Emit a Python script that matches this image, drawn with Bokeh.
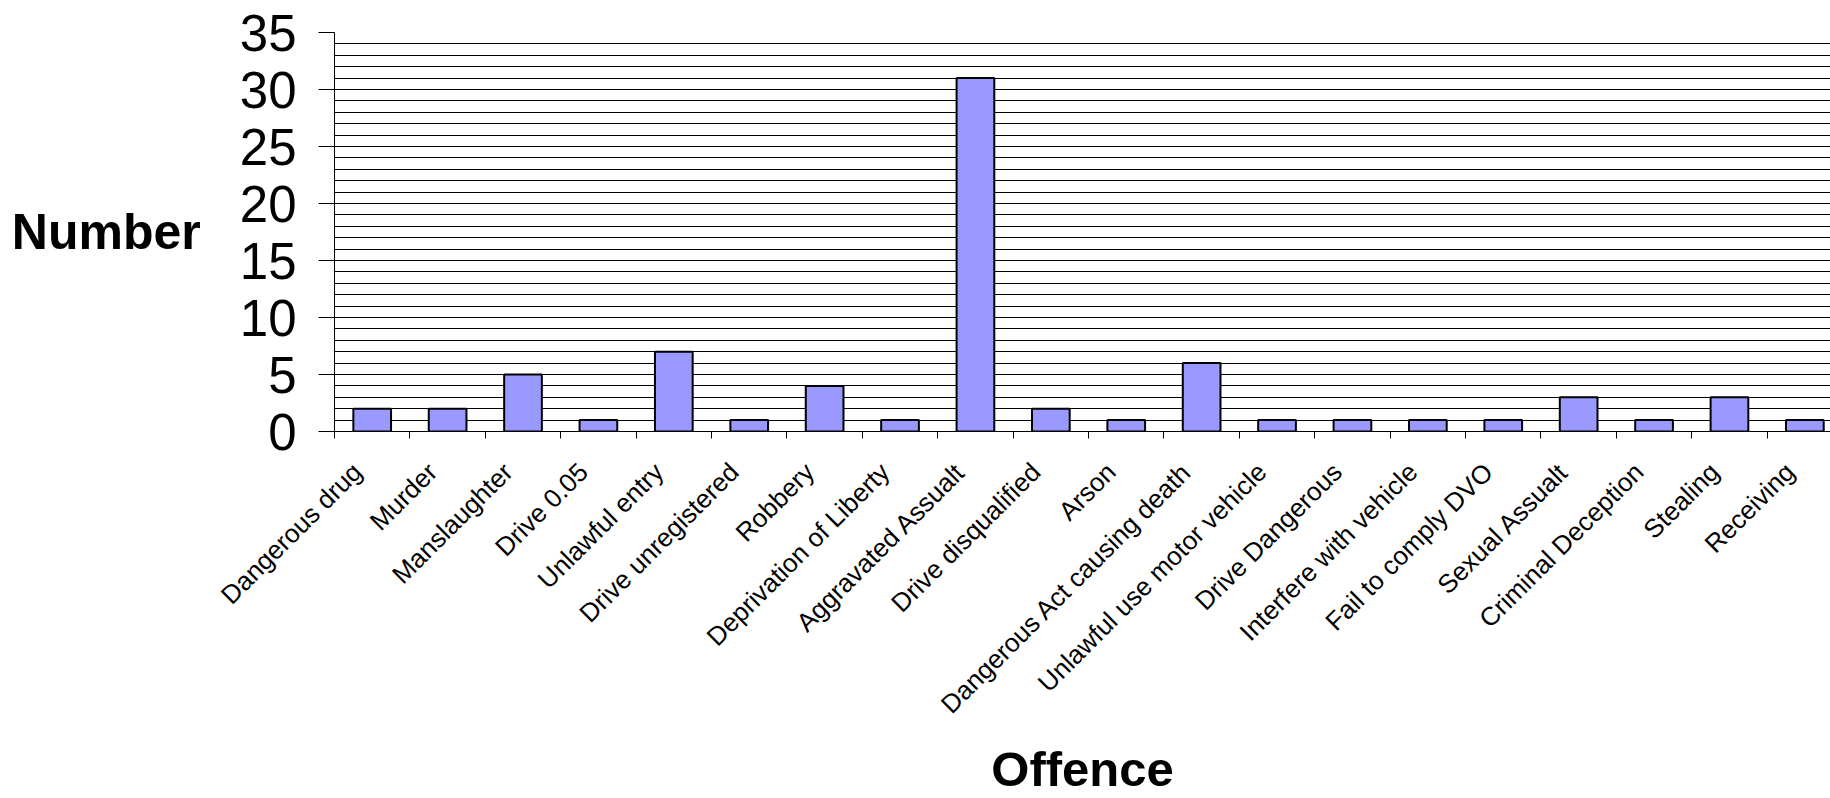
import math
from bokeh.plotting import figure
from bokeh.models import ColumnDataSource, Range1d, FixedTicker, Label
from bokeh.embed import file_html
from bokeh.resources import INLINE

categories = [
    "Dangerous drug", "Murder", "Manslaughter", "Drive 0.05", "Unlawful entry",
    "Drive unregistered", "Robbery", "Deprivation of Liberty", "Aggravated Assualt",
    "Drive disqualified", "Arson", "Dangerous Act causing death",
    "Unlawful use motor vehicle", "Drive Dangerous", "Interfere with vehicle",
    "Fail to comply DVO", "Sexual Assualt", "Criminal Deception", "Stealing", "Receiving",
]
counts = [2, 2, 5, 1, 7, 1, 4, 1, 31, 2, 1, 6, 1, 1, 1, 1, 3, 1, 3, 1]
y_ticks = [0, 5, 10, 15, 20, 25, 30, 35]
y_axis_title = "Number"
x_axis_title = "Offence"

FONT = "Liberation Sans"

n = len(categories)
centers = [i + 0.5 for i in range(n)]
boundaries = list(range(n + 1))
label_shift = 0.2  # rotated labels end slightly left of the bar centre
label_pos = [c - label_shift for c in centers]
source = ColumnDataSource(dict(x=centers, top=counts, name=categories))

p = figure(width=1830, height=798, output_backend="svg", toolbar_location=None,
           x_range=Range1d(0, 19.84), y_range=Range1d(0, 35),
           min_border_left=334, min_border_right=0, min_border_top=32,
           min_border_bottom=366)
p.outline_line_color = None
p.background_fill_color = "white"

p.vbar(x="x", top="top", width=0.5, source=source, fill_color="#9999FF",
       line_color="black", line_width=2)

# x axis
xa = p.xaxis[0]
xa.ticker = FixedTicker(ticks=label_pos, minor_ticks=boundaries)
xa.major_label_overrides = {c: name for c, name in zip(label_pos, categories)}
xa.major_label_orientation = math.pi / 4
xa.major_label_text_font = FONT
xa.major_label_text_font_size = "26px"
xa.major_label_text_color = "black"
xa.major_label_standoff = 29
xa.major_tick_out = 0
xa.major_tick_in = 0
xa.minor_tick_out = 7
xa.minor_tick_in = 0
xa.minor_tick_line_color = "black"
xa.axis_line_color = "black"
xa.axis_label = x_axis_title
xa.axis_label_text_font = FONT
xa.axis_label_text_font_size = "49px"
xa.axis_label_text_font_style = "bold"
xa.axis_label_text_color = "black"
xa.axis_label_standoff = 9

# y axis
ya = p.yaxis[0]
ya.ticker = FixedTicker(ticks=y_ticks, minor_ticks=list(range(36)))
ya.major_label_text_font = FONT
ya.major_label_text_font_size = "51px"
ya.major_label_text_color = "black"
ya.major_label_standoff = 22
ya.major_tick_out = 16
ya.major_tick_in = 0
ya.minor_tick_out = 0
ya.minor_tick_in = 0
ya.major_tick_line_color = "black"
ya.axis_line_color = "black"

try:
    ya.axis_label_orientation = "horizontal"
    ya.axis_label = y_axis_title
    ya.axis_label_text_font = FONT
    ya.axis_label_text_font_size = "50px"
    ya.axis_label_text_font_style = "bold"
    ya.axis_label_text_color = "black"
    ya.axis_label_standoff = 36
except Exception:
    p.add_layout(Label(x=-4.22, y=17.56, text=y_axis_title, text_font=FONT,
                       text_font_size="50px", text_font_style="bold", level="overlay",
                       text_align="left", text_baseline="middle", text_color="black"))

p.xgrid.grid_line_color = None
p.ygrid.grid_line_color = "black"
p.ygrid.minor_grid_line_color = "black"
p.ygrid.grid_line_width = 1

open("out.html", "w").write(file_html(p, INLINE))
